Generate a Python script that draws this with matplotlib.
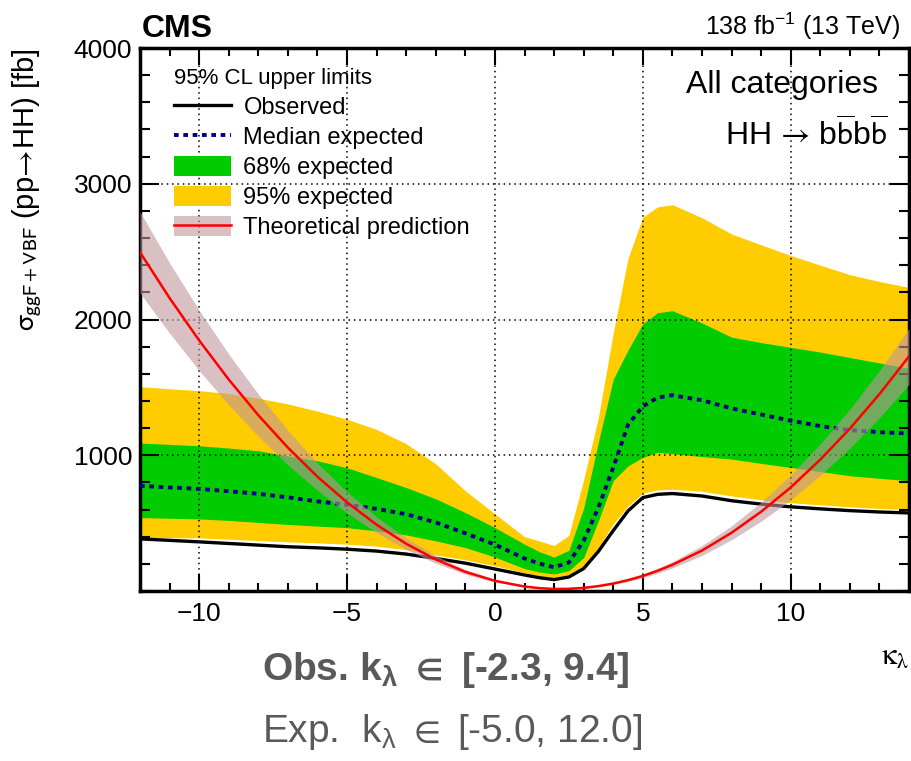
import matplotlib
matplotlib.use("Agg")
import matplotlib.pyplot as plt
from matplotlib.patches import Patch
from matplotlib.lines import Line2D
from matplotlib.ticker import MultipleLocator

plt.rcParams['font.family'] = ['Liberation Sans', 'DejaVu Sans']
plt.rcParams['mathtext.fontset'] = 'custom'
plt.rcParams['mathtext.rm'] = 'Liberation Sans'
plt.rcParams['mathtext.it'] = 'Liberation Sans:italic'
plt.rcParams['mathtext.bf'] = 'Liberation Sans:bold'
plt.rcParams['mathtext.fallback'] = 'stixsans'

# kappa_lambda scan points and limits [fb]
kl = [-12, -11, -10, -9, -8, -7, -6, -5, -4, -3, -2, -1, 0, 1, 1.5, 2, 2.5,
      3, 3.5, 4, 4.5, 5, 5.5, 6, 7, 8, 9, 10, 11, 12, 13, 14]
observed = [384, 373, 362, 350, 338, 326, 318, 308, 294, 272, 240, 205, 162,
            118, 98, 84, 103, 165, 292, 445, 590, 688, 712, 718, 700, 665,
            640, 620, 605, 592, 582, 575]
expected = [775, 763, 752, 735, 716, 690, 660, 635, 605, 566, 505, 425, 342,
            240, 202, 175, 210, 370, 615, 910, 1225, 1360, 1425, 1442, 1405,
            1345, 1300, 1255, 1215, 1185, 1170, 1160]
green_hi = [1090, 1080, 1070, 1053, 1033, 995, 959, 908, 836, 762, 679, 578,
            467, 345, 290, 250, 300, 610, 1100, 1560, 1775, 1968, 2050, 2065,
            1975, 1870, 1830, 1795, 1760, 1720, 1680, 1640]
green_lo = [541, 536, 531, 520, 505, 490, 478, 467, 442, 413, 369, 320, 250,
            165, 140, 125, 150, 246, 517, 812, 922, 984, 1021, 1012, 990, 972,
            940, 910, 880, 849, 830, 812]
yellow_hi = [1505, 1490, 1476, 1455, 1420, 1378, 1325, 1265, 1190, 1085, 937,
             738, 568, 400, 369, 335, 410, 820, 1280, 1900, 2450, 2755, 2829,
             2846, 2750, 2630, 2550, 2472, 2400, 2330, 2280, 2236]
yellow_lo = [396, 393, 391, 382, 372, 362, 355, 345, 330, 305, 265, 230, 185,
             135, 112, 98, 118, 184, 320, 494, 625, 720, 745, 750, 735, 700,
             672, 650, 635, 620, 608, 600]

# theoretical prediction and its band [fb]
theory = [2495, 2158, 1846, 1558, 1295, 1056, 842, 653, 488, 348, 232, 141,
          75, 33, 21, 15, 16, 23, 36, 55, 80, 111, 149, 193, 298, 429, 584,
          763, 968, 1196, 1450, 1728]
theory_hi = [2794, 2417, 2068, 1745, 1450, 1183, 943, 731, 547, 390, 260, 158,
             84, 37, 24, 17, 18, 26, 40, 62, 90, 124, 167, 216, 334, 480, 654,
             855, 1084, 1340, 1624, 1935]
theory_lo = [2196, 1899, 1624, 1371, 1140, 929, 741, 575, 429, 306, 204, 124,
             66, 29, 18, 14, 14, 20, 32, 48, 70, 98, 131, 170, 262, 378, 514,
             671, 852, 1052, 1276, 1521]

c_yellow = '#ffcc00'
c_green = '#00cc00'
c_band = (0.75, 0.59, 0.61)

fig = plt.figure(figsize=(9.12, 7.61), dpi=100)
ax = fig.add_axes([140 / 912, 1 - 591 / 761, 769 / 912, 543 / 761])

ax.fill_between(kl, yellow_lo, yellow_hi, color=c_yellow, lw=0, zorder=1)
ax.fill_between(kl, green_lo, green_hi, color=c_green, lw=0, zorder=1.1)
ax.plot(kl, observed, color='black', lw=2.4, zorder=3)
ax.plot(kl, expected, color='#000080', lw=2.8, ls=(0, (1.2, 1.2)),
        dash_capstyle='butt', zorder=3.1)
ax.fill_between(kl, theory_lo, theory_hi, color=c_band, alpha=0.6, lw=0,
                zorder=3.2)
ax.plot(kl, theory, color='#ff0000', lw=1.8, zorder=3.3)

ax.set_xlim(-12, 14)
ax.set_ylim(0, 4000)
ax.set_xticks([-10, -5, 0, 5, 10])
ax.set_yticks([1000, 2000, 3000, 4000])
ax.xaxis.set_minor_locator(MultipleLocator(1))
ax.yaxis.set_minor_locator(MultipleLocator(200))
ax.grid(True, which='major', color='black', ls=(0, (1, 2.5)), lw=1.1)
ax.set_axisbelow(False)
ax.tick_params(which='both', direction='in', top=True, right=True,
               labelsize=19, width=1.5)
ax.tick_params(axis='y', which='major', length=14, pad=5.5)
ax.tick_params(axis='y', which='minor', length=7)
ax.tick_params(axis='x', which='major', length=12, pad=8)
ax.tick_params(axis='x', which='minor', length=6)
for s in ax.spines.values():
    s.set_linewidth(2.5)

ax.set_ylabel(r'$\mathrm{\sigma}_{\mathrm{ggF+VBF}}$ (pp$\!\rightarrow\!$HH) [fb]',
              fontsize=21, loc='top', math_fontfamily='stixsans')
ax.yaxis.set_label_coords(-0.125, 1.0)
ax.set_xlabel(r'$\mathrm{\kappa_{\lambda}}$', fontsize=22, math_fontfamily='stix',
              ha='right', va='baseline')
ax.xaxis.set_label_coords(1.0, -0.136)

handles = [
    Line2D([], [], color='black', lw=2.4),
    Line2D([], [], color='#000080', lw=2.8, ls=(0, (1.2, 1.2)),
           dash_capstyle='butt'),
    Patch(facecolor=c_green, lw=0),
    Patch(facecolor=c_yellow, lw=0),
    (Patch(facecolor=c_band, alpha=0.6, lw=0),
     Line2D([], [], color='#ff0000', lw=1.8)),
]
labels = ['Observed', 'Median expected', '68% expected', '95% expected',
          'Theoretical prediction']
leg = ax.legend(handles, labels, loc='upper left', bbox_to_anchor=(0.044, 0.963),
                frameon=False, fontsize=17, borderpad=0, borderaxespad=0,
                handlelength=2.4, handleheight=0.9, handletextpad=0.55,
                labelspacing=0.3, title='95% CL upper limits',
                title_fontsize=16, alignment='left')

ax.text(0.9597, 0.917, 'All categories', transform=ax.transAxes, fontsize=23,
        ha='right', va='baseline')
ax.text(0.9727, 0.8195,
        r'HH$\,\rightarrow\,$b$\overline{\mathrm{b}}$b$\overline{\mathrm{b}}$',
        transform=ax.transAxes, fontsize=23, ha='right', va='baseline',
        math_fontfamily='stixsans')

fig.text(0.1557, 0.9514, 'CMS', fontsize=23, fontweight='bold', va='baseline')
fig.text(0.9868, 0.954, r'138 fb$^{-1}$ (13 TeV)', fontsize=18, ha='right',
         va='baseline')

fig.text(0.287, 0.1064, r'Obs. k$_{\mathbf{\lambda}}\ \mathbf{\in}$ [-2.3, 9.4]',
         fontsize=28, fontweight='bold', color='#595959', va='baseline')
fig.text(0.287, 0.025, r'Exp.  k$_{\mathrm{\lambda}}\ \in$ [-5.0, 12.0]',
         fontsize=28, color='#595959', va='baseline')

fig.savefig('out.png', dpi=100)
